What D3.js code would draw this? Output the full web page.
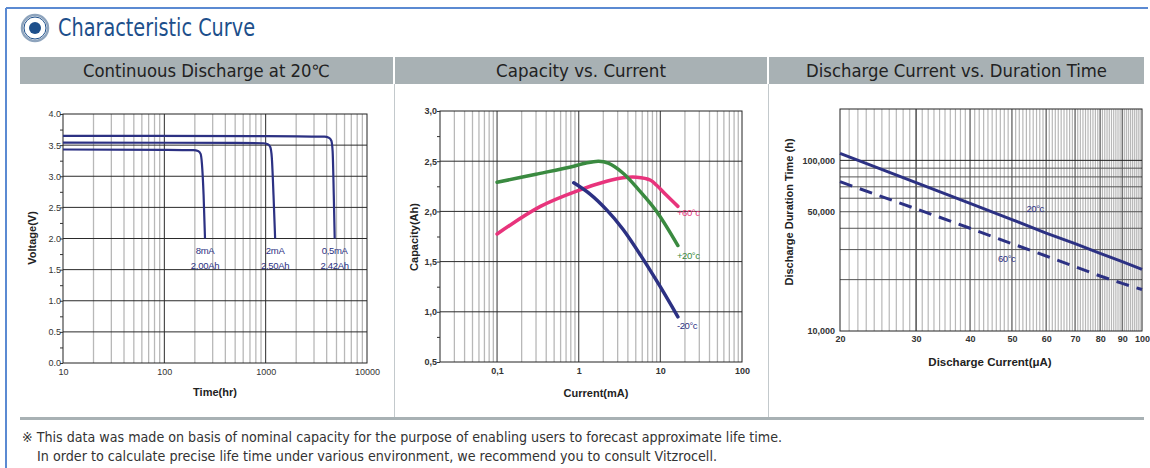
<!DOCTYPE html>
<html>
<head>
<meta charset="utf-8">
<script src="https://cdn.jsdelivr.net/npm/d3@7"></script>
<style>
  body { margin: 0; background: #fff; }
  svg { display: block; }
  .tick text { font-family: "Liberation Sans", Arial, sans-serif; }
</style>
</head>
<body>
<div id="chart"></div>
<script>
// ---- panel titles / texts
const pageTitle = "Characteristic Curve";
const panelTitles = ["Continuous Discharge at 20\u2103", "Capacity vs. Current", "Discharge Current vs. Duration Time"];
const footNotes = [
  "\u203B This data was made on basis of nominal capacity for the purpose of enabling users to forecast approximate life time.",
  "In order to calculate precise life time under various environment, we recommend you to consult Vitzrocell."
];

// ---- chart 1: continuous discharge (time in hr, voltage in V)
const timeTicks = [10, 100, 1000, 10000];
const voltTicks = [0, 0.5, 1.0, 1.5, 2.0, 2.5, 3.0, 3.5, 4.0];
const t05mA = [10, 1000, 3800, 4200, 4450, 4580, 4700, 4800];
const v05mA = [3.65, 3.645, 3.635, 3.62, 3.57, 3.4, 2.7, 2.0];
const t2mA = [10, 500, 950, 1050, 1110, 1150, 1195, 1240];
const v2mA = [3.54, 3.535, 3.53, 3.515, 3.47, 3.3, 2.7, 2.0];
const t8mA = [10, 100, 195, 215, 228, 235, 244, 252];
const v8mA = [3.43, 3.425, 3.42, 3.405, 3.36, 3.2, 2.7, 2.0];
const dischargeLabels = [["8mA", "2,00Ah"], ["2mA", "2,50Ah"], ["0,5mA", "2,42Ah"]];

// ---- chart 2: capacity vs current (mA, Ah)
const currTicks = [0.1, 1, 10, 100];
const capTicks = [0.5, 1.0, 1.5, 2.0, 2.5, 3.0];
const cur60 = [0.1, 0.34, 1.0, 2.2, 3.5, 5.1, 7.6, 9, 11.9, 16.4];
const cap60 = [1.775, 2.05, 2.21, 2.30, 2.335, 2.34, 2.31, 2.26, 2.16, 2.05];
const cur20 = [0.1, 0.3, 0.87, 1.2, 1.75, 2.3, 3.5, 5.5, 9, 16.4];
const cap20 = [2.29, 2.37, 2.45, 2.48, 2.50, 2.48, 2.38, 2.21, 2.0, 1.66];
const curM20 = [0.87, 1.39, 2.2, 3.5, 6.2, 9.8, 16.4];
const capM20 = [2.285, 2.17, 2.015, 1.82, 1.52, 1.26, 0.95];
const capLabels = ["+60\u00B0c", "+20\u00B0c", "-20\u00B0c"];

// ---- chart 3: discharge current (uA) vs duration (h)
const uaTicks = [20, 30, 40, 50, 60, 70, 80, 90, 100];
const hourTicks = [10000, 50000, 100000];
const uaCurrent = [20, 30, 40, 50, 60, 70, 80, 90, 100];
const hours20 = [110000, 74000, 56000, 45000, 37500, 32500, 28500, 25500, 23000];
const hours60 = [75000, 52000, 40000, 32500, 27500, 23800, 21000, 19000, 17500];
const durLabels = ["20\u00B0c", "60\u00B0c"];

const navy = "#2c3183", pink = "#e8347c", green = "#3a8a40";
const minorGrid = "#b8b8b8", majorGrid = "#2a2a2a";
const fontChart = '"Liberation Sans", Arial, sans-serif';
const fontDin = '"DejaVu Sans Condensed", "Liberation Sans Narrow", sans-serif';

const svg = d3.select("#chart").append("svg")
  .attr("width", 1150).attr("height", 468);

// frame
svg.append("line").attr("x1", 6).attr("x2", 1148).attr("y1", 8).attr("y2", 8)
  .attr("stroke", "#5b8ad2").attr("stroke-width", 2);
svg.append("line").attr("x1", 6).attr("x2", 6).attr("y1", 8).attr("y2", 468)
  .attr("stroke", "#5b8ad2").attr("stroke-width", 2);

// title with icon
svg.append("circle").attr("cx", 35).attr("cy", 28).attr("r", 13)
  .attr("fill", "#fff").attr("stroke", "#8ea4bd").attr("stroke-width", 2.5);
svg.append("circle").attr("cx", 35).attr("cy", 28).attr("r", 11)
  .attr("fill", "none").attr("stroke", "#1d4f8b").attr("stroke-width", 1);
svg.append("circle").attr("cx", 35).attr("cy", 28).attr("r", 6).attr("fill", "#1d4f8b");
svg.append("text").attr("x", 58).attr("y", 36)
  .attr("font-family", fontDin).attr("font-size", 24).attr("fill", "#1d4f8b")
  .attr("textLength", 197).attr("lengthAdjust", "spacingAndGlyphs")
  .text(pageTitle);

// header bar
const sections = [[20, 393], [395, 767], [769, 1144]];
const titleWidths = [247, 170, 301];
svg.append("rect").attr("x", 20).attr("y", 57).attr("width", 1124).attr("height", 27).attr("fill", "#a8b1b4");
[394, 768].forEach(x => {
  svg.append("line").attr("x1", x).attr("x2", x).attr("y1", 57).attr("y2", 84)
    .attr("stroke", "#fff").attr("stroke-width", 2);
  svg.append("line").attr("x1", x + 0.5).attr("x2", x + 0.5).attr("y1", 84).attr("y2", 418)
    .attr("stroke", "#c3c9cc").attr("stroke-width", 1);
});
sections.forEach((s, i) => {
  svg.append("text").attr("x", (s[0] + s[1]) / 2).attr("y", 77)
    .attr("text-anchor", "middle").attr("font-family", fontDin).attr("font-size", 17)
    .attr("fill", "#222").attr("textLength", titleWidths[i]).attr("lengthAdjust", "spacingAndGlyphs")
    .text(panelTitles[i]);
});
svg.append("rect").attr("x", 20).attr("y", 417).attr("width", 1124).attr("height", 3).attr("fill", "#a8b1b4");

// footer
svg.append("text").attr("x", 22).attr("y", 442).attr("font-family", fontDin).attr("font-size", 14)
  .attr("fill", "#333").attr("textLength", 760).attr("lengthAdjust", "spacingAndGlyphs").text(footNotes[0]);
svg.append("text").attr("x", 37).attr("y", 461).attr("font-family", fontDin).attr("font-size", 14)
  .attr("fill", "#333").attr("textLength", 680).attr("lengthAdjust", "spacingAndGlyphs").text(footNotes[1]);

function isPow10(v) {
  const l = Math.log10(v);
  return Math.abs(l - Math.round(l)) < 1e-9;
}

function styleAxis(g, bold) {
  g.select(".domain").remove();
  g.selectAll(".tick text").attr("font-size", 9).attr("fill", "#333")
    .attr("font-weight", bold ? "bold" : "normal");
  g.selectAll(".tick line").attr("stroke", "#333");
}

function vline(g, x, y0, y1, color, w) {
  g.append("line").attr("x1", x).attr("x2", x).attr("y1", y0).attr("y2", y1)
    .attr("stroke", color).attr("stroke-width", w);
}
function hline(g, y, x0, x1, color, w) {
  g.append("line").attr("x1", x0).attr("x2", x1).attr("y1", y).attr("y2", y)
    .attr("stroke", color).attr("stroke-width", w);
}

// ===================== chart 1
{
  const x = d3.scaleLog().domain([10, 10000]).range([63, 367]);
  const y = d3.scaleLinear().domain([0, 4]).range([363, 114]);
  const g = svg.append("g");
  x.ticks().filter(v => !isPow10(v)).forEach(v => vline(g, x(v), 114, 363, minorGrid, 1.3));
  [100, 1000].forEach(v => vline(g, x(v), 114, 363, majorGrid, 1));
  voltTicks.slice(1, -1).forEach(v => hline(g, y(v), 63, 367, majorGrid, 1));
  g.append("rect").attr("x", 63).attr("y", 114).attr("width", 304).attr("height", 249)
    .attr("fill", "none").attr("stroke", "#222").attr("stroke-width", 1);

  g.append("g").attr("transform", "translate(63,0)")
    .call(d3.axisLeft(y).tickValues(d3.range(0, 4.01, 0.25)).tickSize(3).tickFormat(""))
    .call(a => styleAxis(a, false));
  g.append("g").attr("transform", "translate(63,0)")
    .call(d3.axisLeft(y).tickValues(voltTicks).tickSize(0).tickPadding(2).tickFormat(d3.format(".1f")))
    .call(a => styleAxis(a, false));
  g.append("g").attr("transform", "translate(0,363)")
    .call(d3.axisBottom(x).tickValues(timeTicks).tickSize(0).tickPadding(6).tickFormat(d3.format("d")))
    .call(a => styleAxis(a, false));

  const line = d3.line().x(d => x(d[0])).y(d => y(d[1])).curve(d3.curveMonotoneX);
  const series = [d3.zip(t8mA, v8mA), d3.zip(t2mA, v2mA), d3.zip(t05mA, v05mA)];
  series.forEach((s, i) => {
    g.append("path").attr("d", line(s)).attr("fill", "none").attr("stroke", navy).attr("stroke-width", 2.2);
    const end = s[s.length - 1];
    const lbl = g.append("text").attr("text-anchor", "middle").attr("font-family", fontChart)
      .attr("font-size", 9.5).attr("fill", navy).attr("letter-spacing", -0.3);
    lbl.append("tspan").attr("x", x(end[0])).attr("y", y(end[1]) + 15).text(dischargeLabels[i][0]);
    lbl.append("tspan").attr("x", x(end[0])).attr("y", y(end[1]) + 30).text(dischargeLabels[i][1]);
  });

  svg.append("text").attr("transform", "translate(36,238) rotate(-90)").attr("text-anchor", "middle")
    .attr("font-family", fontChart).attr("font-weight", "bold").attr("font-size", 11).attr("fill", "#222")
    .text("Voltage(V)");
  svg.append("text").attr("x", 215).attr("y", 396).attr("text-anchor", "middle")
    .attr("font-family", fontChart).attr("font-weight", "bold").attr("font-size", 11).attr("fill", "#222")
    .text("Time(hr)");
}

// ===================== chart 2
{
  const x = d3.scaleLog().domain([0.02, 100]).range([440, 742]);
  const y = d3.scaleLinear().domain([0.5, 3.0]).range([362, 111]);
  const g = svg.append("g");
  x.ticks().filter(v => !isPow10(v) && v > 0.02 && v < 100).forEach(v => vline(g, x(v), 111, 362, minorGrid, 1.3));
  [0.1, 1, 10].forEach(v => vline(g, x(v), 111, 362, "#555", 1.2));
  capTicks.slice(1, -1).forEach(v => hline(g, y(v), 440, 742, majorGrid, 1));
  g.append("rect").attr("x", 440).attr("y", 111).attr("width", 302).attr("height", 251)
    .attr("fill", "none").attr("stroke", "#222").attr("stroke-width", 1);

  const comma = v => d3.format(".1f")(v).replace(".", ",");
  g.append("g").attr("transform", "translate(440,0)")
    .call(d3.axisLeft(y).tickValues(d3.range(0.5, 3.01, 0.25)).tickSize(3).tickFormat(""))
    .call(a => styleAxis(a, true));
  g.append("g").attr("transform", "translate(440,0)")
    .call(d3.axisLeft(y).tickValues(capTicks).tickSize(0).tickPadding(3).tickFormat(comma))
    .call(a => styleAxis(a, true));
  g.append("g").attr("transform", "translate(0,362)")
    .call(d3.axisBottom(x).tickValues(currTicks).tickSize(0).tickPadding(6)
      .tickFormat(v => v < 1 ? comma(v) : d3.format("d")(v)))
    .call(a => styleAxis(a, true));

  const line = d3.line().x(d => x(d[0])).y(d => y(d[1])).curve(d3.curveCatmullRom.alpha(0.5));
  const series = [[d3.zip(cur60, cap60), pink], [d3.zip(cur20, cap20), green], [d3.zip(curM20, capM20), navy]];
  series.forEach(([s, c], i) => {
    g.append("path").attr("d", line(s)).attr("fill", "none").attr("stroke", c)
      .attr("stroke-width", 3.5).attr("stroke-linecap", "round");
    const end = s[s.length - 1];
    g.append("text").attr("x", x(end[0]) - 1).attr("y", y(end[1]) + [10, 13, 12.5][i])
      .attr("font-family", fontChart).attr("font-size", 9.5).attr("fill", c).attr("letter-spacing", -0.4)
      .text(capLabels[i]);
  });

  svg.append("text").attr("transform", "translate(418,237) rotate(-90)").attr("text-anchor", "middle")
    .attr("font-family", fontChart).attr("font-weight", "bold").attr("font-size", 11).attr("fill", "#222")
    .text("Capacity(Ah)");
  svg.append("text").attr("x", 596).attr("y", 397).attr("text-anchor", "middle")
    .attr("font-family", fontChart).attr("font-weight", "bold").attr("font-size", 11).attr("fill", "#222")
    .text("Current(mA)");
}

// ===================== chart 3
{
  const x = d3.scaleLog().domain([20, 100]).range([840, 1142]);
  const y = d3.scaleLog().domain([10000, 200000]).range([331, 109]);
  const g = svg.append("g");
  d3.range(21, 100).filter(v => v % 10 !== 0).forEach(v => vline(g, x(v), 109, 331, minorGrid, 1.2));
  d3.range(40, 100, 10).forEach(v => vline(g, x(v), 109, 331, "#555", 1.2));
  vline(g, x(30), 109, 331, "#222", 1.2);
  d3.range(20000, 100001, 10000).forEach(v => hline(g, y(v), 840, 1142, v === 100000 ? "#222" : "#555", 1));
  g.append("rect").attr("x", 840).attr("y", 109).attr("width", 302).attr("height", 222)
    .attr("fill", "none").attr("stroke", "#222").attr("stroke-width", 1);

  g.append("g").attr("transform", "translate(840,0)")
    .call(d3.axisLeft(y).tickValues(hourTicks).tickSize(0).tickPadding(5).tickFormat(d3.format(",")))
    .call(a => styleAxis(a, true));
  g.append("g").attr("transform", "translate(0,331)")
    .call(d3.axisBottom(x).tickValues(uaTicks).tickSize(0).tickPadding(5).tickFormat(d3.format("d")))
    .call(a => styleAxis(a, true));

  const line = d3.line().x(d => x(d[0])).y(d => y(d[1]));
  g.append("path").attr("d", line(d3.zip(uaCurrent, hours20))).attr("fill", "none")
    .attr("stroke", navy).attr("stroke-width", 3);
  g.append("path").attr("d", line(d3.zip(uaCurrent, hours60))).attr("fill", "none")
    .attr("stroke", navy).attr("stroke-width", 3).attr("stroke-dasharray", "13,8");

  g.append("text").attr("x", x(54)).attr("y", y(49800)).attr("font-family", fontChart)
    .attr("font-size", 9.5).attr("fill", navy).attr("letter-spacing", -0.4).text(durLabels[0]);
  g.append("text").attr("x", x(46.4)).attr("y", y(25500)).attr("font-family", fontChart)
    .attr("font-size", 9.5).attr("fill", navy).attr("letter-spacing", -0.4).text(durLabels[1]);

  svg.append("text").attr("transform", "translate(793,212) rotate(-90)").attr("text-anchor", "middle")
    .attr("font-family", fontChart).attr("font-weight", "bold").attr("font-size", 11).attr("fill", "#222")
    .text("Discharge Duration Time (h)");
  svg.append("text").attr("x", 990).attr("y", 366).attr("text-anchor", "middle")
    .attr("font-family", fontChart).attr("font-weight", "bold").attr("font-size", 11.5).attr("fill", "#222")
    .text("Discharge Current(\u03BCA)");
}
</script>
</body>
</html>
